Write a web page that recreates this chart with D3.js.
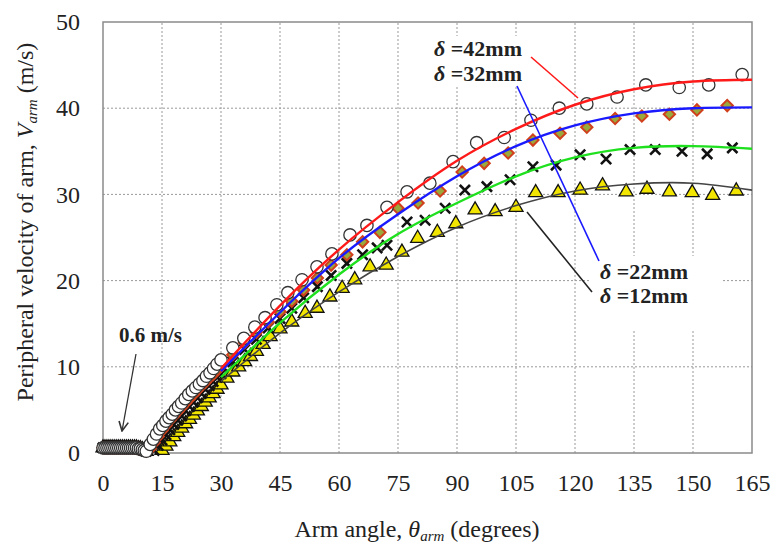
<!DOCTYPE html>
<html lang="en">
<head>
    <meta charset="UTF-8">
    <script type="text/javascript" src="https://cdn.jsdelivr.net/npm/d3@7"></script>
    <title>Peripheral velocity of arm</title>
    <style>
        body { margin: 0; background: #fff; }
        text { font-family: "Liberation Serif", "Times New Roman", serif; fill: #222; }
        .grid line { stroke: #999; stroke-dasharray: 2,2; stroke-width: 1; }
    </style>
</head>
<body>
<script>
    // axis ticks
    var xTicks = [0, 15, 30, 45, 60, 75, 90, 105, 120, 135, 150, 165];
    var yTicks = [0, 10, 20, 30, 40, 50];

    // common start of every run (arm at rest, densely sampled)
    var startAng = [0, 0.5, 1, 1.5, 2, 2.5, 3, 3.5, 4, 4.5, 5, 5.5, 6, 6.5, 7, 7.5, 8, 8.5, 9, 9.5, 10, 10.5, 11];
    var startVel = [0.6, 0.6, 0.6, 0.6, 0.6, 0.6, 0.6, 0.6, 0.6, 0.6, 0.6, 0.6, 0.6, 0.6, 0.6, 0.6, 0.6, 0.6, 0.5, 0.5, 0.4, 0.3, 0.2];

    var ang42 = [12, 12.8, 13.6, 14.4, 15.2, 16, 16.8, 17.6, 18.4, 19.2, 20, 20.9, 21.8, 22.7, 23.6, 24.5, 25.4, 26.3, 27.2, 28.1, 29, 30,
        33, 35.8, 38.6, 41.2, 44.2, 47, 50.6, 54.4, 58.2, 62.8, 67.1, 72.2, 77.3, 83.1, 89, 95, 102, 108.8, 116, 123, 130.7, 138, 146.5, 154, 162.5];
    var vel42 = [1.0, 1.6, 2.2, 2.8, 3.2, 3.7, 4.1, 4.5, 5.0, 5.4, 5.8, 6.3, 6.8, 7.2, 7.6, 8.0, 8.4, 8.9, 9.3, 9.8, 10.3, 10.8,
        12.2, 13.3, 14.6, 15.7, 17.2, 18.6, 20.1, 21.6, 23.1, 25.3, 26.4, 28.5, 30.3, 31.3, 33.8, 36.0, 36.6, 38.6, 40.0, 40.5, 41.3, 42.7, 42.4, 42.7, 43.9];

    var ang32 = [12, 13, 14, 15, 16, 17, 18, 19, 20, 21, 22, 23, 24, 25, 26, 27, 28, 29, 30,
        33, 36, 39, 42, 45, 48, 51, 54.5, 58, 62, 66, 70.4, 75, 80.1, 85.7, 91.3, 96.9, 103, 109.3, 116.2, 123, 130.2, 137, 144, 151, 158.7];
    var vel32 = [0.5, 1.2, 1.9, 2.6, 3.2, 3.8, 4.3, 4.8, 5.3, 5.8, 6.3, 6.8, 7.3, 7.8, 8.2, 8.7, 9.1, 9.6, 10.1,
        11.4, 12.8, 14.0, 15.2, 16.4, 17.6, 18.9, 20.3, 21.8, 23.0, 24.5, 25.6, 28.4, 29.0, 30.4, 32.6, 33.6, 34.8, 36.3, 37.1, 37.8, 38.8, 39.1, 39.3, 39.8, 40.3];

    var ang22 = [13, 14, 15, 16, 17, 18, 19, 20, 21, 22, 23, 24, 25, 26, 27, 28, 29, 30,
        33, 36, 39, 42, 45, 48, 51, 54.5, 58, 62, 66, 69.7, 72.2, 77.3, 81.9, 87, 92, 97.6, 103.5, 109.3, 115.2, 121.3, 127.9, 134, 140.4, 147.2, 153.6, 160];
    var vel22 = [0.3, 0.9, 1.5, 2.1, 2.7, 3.3, 3.8, 4.3, 4.9, 5.4, 5.9, 6.4, 6.9, 7.4, 7.8, 8.3, 8.8, 9.2,
        10.6, 12.0, 13.2, 14.5, 15.6, 16.8, 18.0, 19.3, 20.6, 22.0, 23.0, 23.8, 24.1, 26.8, 27.0, 28.4, 30.5, 30.9, 31.7, 33.2, 33.4, 34.6, 34.1, 35.2, 35.2, 35.0, 34.7, 35.4];

    var ang12 = [15, 16, 17, 18, 19, 20, 21, 22, 23, 24, 25, 26, 27, 28, 29, 30,
        31.5, 33, 34.5, 36, 37.5, 39, 40.7, 42.5, 45, 48, 51.4, 54.4, 57.7, 60.8, 64, 67.9, 72, 76, 80, 85, 89.7, 94.6, 99.7, 105,
        110, 115.7, 121.3, 127, 133, 138.3, 144, 149.8, 155, 161];
    var vel12 = [0.3, 0.8, 1.3, 1.9, 2.4, 2.9, 3.4, 3.9, 4.4, 4.9, 5.4, 5.9, 6.4, 6.9, 7.4, 7.9,
        8.7, 9.4, 10.0, 10.6, 11.2, 11.8, 12.6, 13.5, 14.4, 15.2, 16.2, 16.8, 18.1, 19.1, 20.1, 21.6, 21.8, 23.3, 24.9, 25.6, 26.6, 28.2, 28.0, 28.5,
        30.2, 30.2, 30.5, 31.0, 30.3, 30.6, 30.3, 30.2, 29.9, 30.4];

    // fitted curves (from 30 degrees)
    var fitAng = [30, 45, 60, 75, 90, 105, 120, 135, 150, 165];
    var fit42 = [9.8, 17.1, 23.6, 29.1, 33.9, 37.6, 40.4, 42.2, 43.1, 43.3];
    var fit32 = [9.5, 16.3, 22.6, 27.7, 32.1, 35.6, 38.0, 39.4, 40.0, 40.1];
    var fit22 = [8.8, 15.1, 20.7, 25.4, 29.0, 32.1, 34.3, 35.4, 35.6, 35.3];
    var fit12 = [8.3, 13.9, 18.7, 22.8, 26.2, 28.7, 30.4, 31.2, 31.3, 30.5];

    var FONT = "'Liberation Serif', 'Times New Roman', serif";
    var W = 774, H = 547;
    var svg = d3.select("body").append("svg")
        .attr("width", W)
        .attr("height", H)
        .attr("font-family", FONT);

    var x = d3.scaleLinear().domain([0, 165]).range([103, 752]);
    var y = d3.scaleLinear().domain([0, 50]).range([453, 22]);

    // grid
    var grid = svg.append("g").attr("class", "grid");
    grid.selectAll(".gx").data(xTicks.slice(1, -1)).enter().append("line")
        .attr("x1", function(d){ return x(d); }).attr("x2", function(d){ return x(d); })
        .attr("y1", y(0)).attr("y2", y(50));
    grid.selectAll(".gy").data(yTicks.slice(1, -1)).enter().append("line")
        .attr("x1", x(0)).attr("x2", x(165))
        .attr("y1", function(d){ return y(d); }).attr("y2", function(d){ return y(d); });

    // label boxes hide the grid
    svg.append("rect").attr("x", 431).attr("y", 36).attr("width", 100).attr("height", 50).attr("fill", "#fff");
    svg.append("rect").attr("x", 590).attr("y", 256).attr("width", 132).attr("height", 74).attr("fill", "#fff");

    // frame
    svg.append("rect")
        .attr("x", x(0)).attr("y", y(50))
        .attr("width", x(165) - x(0)).attr("height", y(0) - y(50))
        .attr("fill", "none").attr("stroke", "#8a8a8a").attr("stroke-width", 1.5);

    // axes
    var xAxis = d3.axisBottom(x).tickValues(xTicks).tickSize(0).tickPadding(21);
    var gx = svg.append("g").attr("transform", "translate(0," + y(0) + ")").call(xAxis)
        .attr("font-family", FONT).attr("font-size", 24);
    gx.select(".domain").remove();
    gx.selectAll("text").attr("fill", "#222");

    var yAxis = d3.axisLeft(y).tickValues(yTicks).tickSize(0).tickPadding(23);
    var gy = svg.append("g").attr("transform", "translate(" + x(0) + ",0)").call(yAxis)
        .attr("font-family", FONT).attr("font-size", 24);
    gy.select(".domain").remove();
    gy.selectAll("text").attr("fill", "#222");

    // markers
    function pts(a, v) {
        return startAng.map(function(d, i){ return [d, startVel[i]]; })
            .concat(a.map(function(d, i){ return [d, v[i]]; }));
    }
    var marks = svg.append("g");

    marks.append("g").selectAll("path").data(pts(ang12, vel12)).enter().append("path")
        .attr("d", d3.symbol().type(d3.symbolTriangle).size(85))
        .attr("transform", function(d){ return "translate(" + x(d[0]) + "," + y(d[1]) + ")"; })
        .attr("fill", "#f2e600").attr("stroke", "#111").attr("stroke-width", 1.3);

    marks.append("g").selectAll("path").data(pts(ang22, vel22)).enter().append("path")
        .attr("d", d3.symbol().type(d3.symbolX).size(70))
        .attr("transform", function(d){ return "translate(" + x(d[0]) + "," + y(d[1]) + ")"; })
        .attr("fill", "none").attr("stroke", "#111").attr("stroke-width", 2.6);

    marks.append("g").selectAll("path").data(pts(ang32, vel32)).enter().append("path")
        .attr("d", d3.symbol().type(d3.symbolSquare).size(64))
        .attr("transform", function(d){ return "translate(" + x(d[0]) + "," + y(d[1]) + ") rotate(45)"; })
        .attr("fill", "#9aa83c").attr("stroke", "#d0401c").attr("stroke-width", 2);

    marks.append("g").selectAll("path").data(pts(ang42, vel42)).enter().append("path")
        .attr("d", d3.symbol().type(d3.symbolCircle).size(120))
        .attr("transform", function(d){ return "translate(" + x(d[0]) + "," + y(d[1]) + ")"; })
        .attr("fill", "#fff").attr("stroke", "#333").attr("stroke-width", 1.3);

    // fitted lines
    var line = d3.line()
        .x(function(d){ return x(d[0]); })
        .y(function(d){ return y(d[1]); })
        .curve(d3.curveNatural);
    var fits = [
        {v: fit12, col: "#444", w: 1.6},
        {v: fit22, col: "#1fe01f", w: 2.4},
        {v: fit32, col: "#1a1aff", w: 2.4},
        {v: fit42, col: "#ff1a1a", w: 2.4}
    ];
    svg.append("g").selectAll("path").data(fits).enter().append("path")
        .attr("d", function(f){ return line(fitAng.map(function(a, i){ return [a, f.v[i]]; })); })
        .attr("fill", "none")
        .attr("stroke", function(f){ return f.col; })
        .attr("stroke-width", function(f){ return f.w; });

    // leader lines
    var leaders = [
        {x1: 531, y1: 57, x2: 578, y2: 98, col: "#ff1a1a"},
        {x1: 517, y1: 86, x2: 599, y2: 261, col: "#1a1aff"},
        {x1: 527, y1: 212, x2: 592, y2: 292, col: "#222"}
    ];
    svg.append("g").selectAll("line").data(leaders).enter().append("line")
        .attr("x1", function(d){ return d.x1; }).attr("y1", function(d){ return d.y1; })
        .attr("x2", function(d){ return d.x2; }).attr("y2", function(d){ return d.y2; })
        .attr("stroke", function(d){ return d.col; }).attr("stroke-width", 1.6);

    // labels
    var labels = [
        {t: "42mm", x: 434, y: 56},
        {t: "32mm", x: 434, y: 81},
        {t: "22mm", x: 600, y: 279},
        {t: "12mm", x: 600, y: 303}
    ];
    var lab = svg.append("g").selectAll("text").data(labels).enter().append("text")
        .attr("x", function(d){ return d.x; }).attr("y", function(d){ return d.y; })
        .attr("font-size", 22).attr("font-weight", "bold");
    lab.append("tspan").attr("font-style", "italic").text("\u03b4");
    lab.append("tspan").text(function(d){ return " =" + d.t; });

    // 0.6 m/s note
    svg.append("defs").append("marker")
        .attr("id", "arr").attr("viewBox", "0 0 10 10").attr("refX", 9).attr("refY", 5)
        .attr("markerWidth", 9).attr("markerHeight", 9).attr("orient", "auto")
        .append("path").attr("d", "M1,1 L9,5 L1,9").attr("fill", "none").attr("stroke", "#333").attr("stroke-width", 1.4);
    svg.append("text").attr("x", 119).attr("y", 342).attr("font-size", 21).attr("font-weight", "bold").text("0.6 m/s");
    svg.append("line").attr("x1", 136).attr("y1", 354).attr("x2", 122).attr("y2", 431)
        .attr("stroke", "#333").attr("stroke-width", 1.3).attr("marker-end", "url(#arr)");

    // axis titles
    var xt = svg.append("text").attr("x", 417).attr("y", 537).attr("text-anchor", "middle").attr("font-size", 24);
    xt.append("tspan").text("Arm angle, ");
    xt.append("tspan").attr("font-style", "italic").text("\u03b8");
    xt.append("tspan").attr("font-style", "italic").attr("font-size", 15).attr("dy", 4).text("arm");
    xt.append("tspan").attr("dy", -4).text(" (degrees)");

    var yt = svg.append("text").attr("transform", "translate(33,222) rotate(-90)")
        .attr("text-anchor", "middle").attr("font-size", 24);
    yt.append("tspan").text("Peripheral velocity of arm, ");
    yt.append("tspan").attr("font-style", "italic").text("V");
    yt.append("tspan").attr("font-style", "italic").attr("font-size", 15).attr("dy", 4).text("arm");
    yt.append("tspan").attr("dy", -4).text(" (m/s)");
</script>
</body>
</html>
